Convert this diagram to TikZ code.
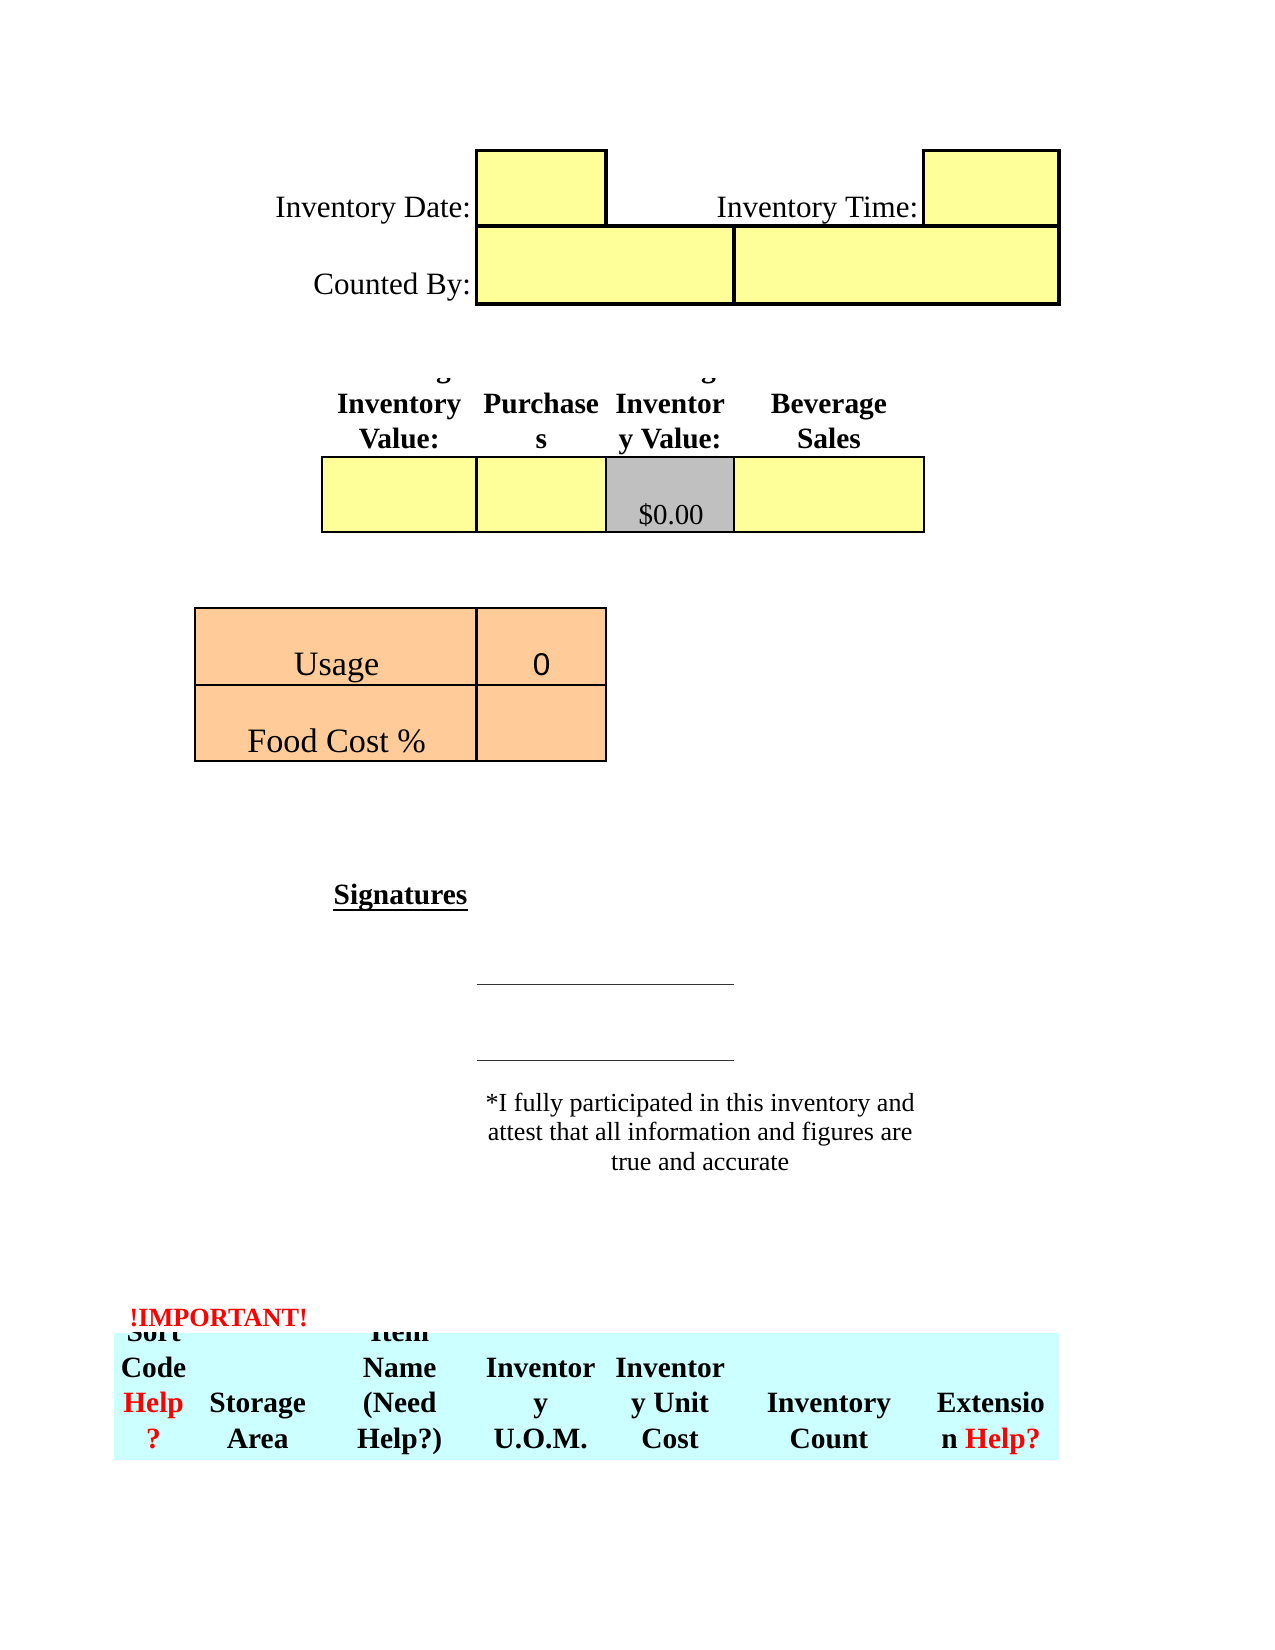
\documentclass[tikz,border=0pt]{standalone}
\usepackage{fontspec}
\setmainfont{Liberation Serif}
\newfontfamily\sansf{Liberation Sans}
\definecolor{cellyellow}{HTML}{FFFF99}
\definecolor{cellgray}{HTML}{C0C0C0}
\definecolor{cellorange}{HTML}{FFCC99}
\definecolor{cellcyan}{HTML}{CCFFFF}
\definecolor{helpred}{HTML}{FF0000}
\begin{document}
\begin{tikzpicture}[x=1pt,y=-1pt,
  toptxt/.style={inner sep=0pt,font=\fontsize{29.5}{34}\selectfont},
  hb/.style={inner sep=0pt,font=\fontsize{28}{34}\selectfont\bfseries},
  big/.style={inner sep=0pt,font=\fontsize{32.5}{38}\selectfont},
  small/.style={inner sep=0pt,font=\fontsize{24.8}{28}\selectfont},
  thickbox/.style={fill=cellyellow,draw=black,line width=3.5pt},
  cellbox/.style={draw=black,line width=2pt},
  redtxt/.style={text=helpred}]
\useasboundingbox (0,0) rectangle (1212,1568.5);
% --- top boxes ---
\draw[thickbox] (453,143) rectangle (576,215);
\draw[thickbox] (878,143) rectangle (1007,215);
\draw[thickbox] (453,215) rectangle (698,289);
\draw[thickbox] (698,215) rectangle (1007,289);
\node[toptxt,anchor=base east] (invdate) at (448,207) {Inventory Date:};
\node[toptxt,anchor=base east] (invtime) at (873,207) {Inventory Time:};
\node[toptxt,anchor=base east] (counted) at (448,280) {Counted By:};
% --- value row ---
\begin{scope}
  \clip (306,359.5) rectangle (453,434);
  \node[hb,anchor=base] (startw) at (379.5,359) {Starting};
\end{scope}
\begin{scope}
  \clip (576,359.5) rectangle (698,434);
  \node[hb,anchor=base] (endw) at (637,359) {Ending};
\end{scope}
\node[hb,anchor=base] (h1a) at (379.5,393) {Inventory};
\node[hb,anchor=base] (h1b) at (379.5,426) {Value:};
\node[hb,anchor=base] (h2a) at (514.5,393) {Purchase};
\node[hb,anchor=base] (h2b) at (514.5,426) {s};
\node[hb,anchor=base] (h3a) at (637,393) {Inventor};
\node[hb,anchor=base] (h3b) at (637,426) {y Value:};
\node[hb,anchor=base] (h4a) at (788,393) {Beverage};
\node[hb,anchor=base] (h4b) at (788,426) {Sales};
\draw[cellbox,fill=cellyellow] (306,434) rectangle (453,506);
\draw[cellbox,fill=cellyellow] (453,434) rectangle (576,506);
\draw[cellbox,fill=cellgray] (576,434) rectangle (698,506);
\draw[cellbox,fill=cellyellow] (698,434) rectangle (878,506);
\node[inner sep=0pt,font=\fontsize{27.5}{32}\selectfont,anchor=base] (endval) at (638,499) {\$0.00};
% --- usage table ---
\draw[cellbox,fill=cellorange] (185,578) rectangle (453,651);
\draw[cellbox,fill=cellorange] (453,578) rectangle (576,651);
\draw[cellbox,fill=cellorange] (185,651) rectangle (453,723);
\draw[cellbox,fill=cellorange] (453,651) rectangle (576,723);
\node[big,anchor=base] (usage) at (320,642.5) {Usage};
\node[inner sep=0pt,font=\sansf\fontsize{30}{36}\selectfont,anchor=base] (usageval) at (515,642.5) {0};
\node[big,anchor=base] (foodcost) at (320,715.5) {Food Cost \%};
% --- signatures ---
\node[hb,anchor=base west] (sig) at (317,860) {Signatures};
\draw[line width=1.6pt] ([yshift=-5pt]sig.base west) -- ([yshift=-5pt]sig.base east);
\coordinate (s1a) at (453,936);
\coordinate (s1b) at (698,936);
\coordinate (s2a) at (453,1008);
\coordinate (s2b) at (698,1008);
\draw[line width=1.1pt,black!80] (s1a) -- (s1b);
\draw[line width=1.1pt,black!80] (s2a) -- (s2b);
\node[small,anchor=base] (p1) at (665.5,1056.5) {*I fully participated in this inventory and};
\node[small,anchor=base] (p2) at (665.5,1084.5) {attest that all information and figures are};
\node[small,anchor=base] (p3) at (665.5,1112.5) {true and accurate};
% --- bottom header ---
\node[inner sep=0pt,font=\fontsize{25}{28}\selectfont\bfseries,text=helpred,anchor=base west] (important) at (123,1261) {!IMPORTANT!};
\fill[cellcyan] (108,1267) rectangle (1007,1388);
\begin{scope}
  \clip (108,1267) rectangle (1007,1388);
  \node[hb,anchor=base] (sorta) at (146,1275) {Sort};
  \node[hb,anchor=base] (itema) at (380,1275) {Item};
\end{scope}
\node[hb,anchor=base] (sortb) at (146,1309) {Code};
\node[hb,anchor=base,redtxt] (sortc) at (146,1343) {Help};
\node[hb,anchor=base,redtxt] (sortd) at (146,1377) {?};
\node[hb,anchor=base] (stora) at (245,1343) {Storage};
\node[hb,anchor=base] (storb) at (245,1377) {Area};
\node[hb,anchor=base] (itemb) at (380,1309) {Name};
\node[hb,anchor=base] (itemc) at (380,1343) {(Need};
\node[hb,anchor=base] (itemd) at (380,1377) {Help?)};
\node[hb,anchor=base] (uoma) at (514,1309) {Inventor};
\node[hb,anchor=base] (uomb) at (514,1343) {y};
\node[hb,anchor=base] (uomc) at (514,1377) {U.O.M.};
\node[hb,anchor=base] (costa) at (637,1309) {Inventor};
\node[hb,anchor=base] (costb) at (637,1343) {y Unit};
\node[hb,anchor=base] (costc) at (637,1377) {Cost};
\node[hb,anchor=base] (cnta) at (788,1343) {Inventory};
\node[hb,anchor=base] (cntb) at (788,1377) {Count};
\node[hb,anchor=base] (exta) at (942,1343) {Extensio};
\node[hb,anchor=base] (extb) at (942,1377) {n \textcolor{helpred}{Help?}};
\end{tikzpicture}
\end{document}
